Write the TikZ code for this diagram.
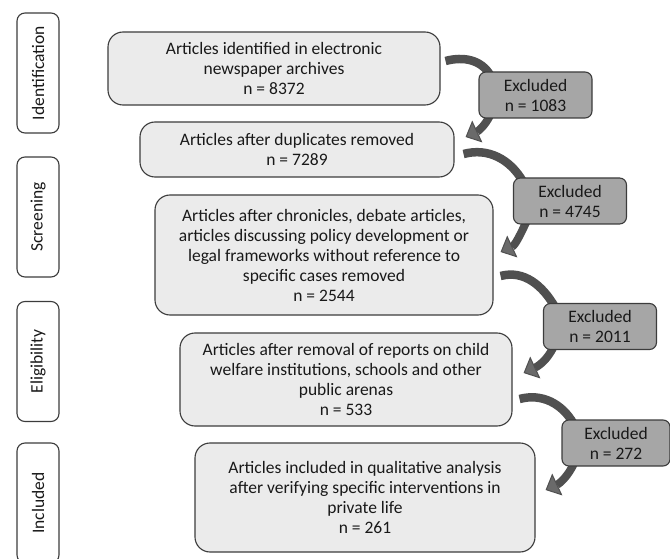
\documentclass[tikz,border=0pt]{standalone}
\usepackage{fontspec}
\setmainfont{Carlito}
\usetikzlibrary{arrows.meta,backgrounds}

\definecolor{boxline}{HTML}{3C3C3C}
\definecolor{mainfill}{HTML}{EBEBEB}
\definecolor{exfill}{HTML}{A6A6A6}
\definecolor{arrowgray}{HTML}{505050}
\definecolor{tipgray}{HTML}{6A6A6A}

\begin{document}
\begin{tikzpicture}[x=1pt,y=1pt,
		every node/.style={font=\fontsize{17.5}{20}\selectfont, text=black!90, align=center, inner sep=0pt},
		phase/.style={draw=boxline, line width=1.1pt, fill=white, rounded corners=8pt, rotate=90, minimum width=120pt, minimum height=42pt},
		stage/.style={draw=boxline, line width=1.1pt, fill=mainfill, rounded corners=15pt},
		excl/.style={draw=boxline, line width=1.1pt, fill=exfill, rounded corners=7pt, minimum width=113pt, minimum height=46pt},
		exarrow/.style={draw=arrowgray, line width=8.5pt},
		exhead/.style={draw=arrowgray, line width=8pt, -{Triangle[width=24pt,length=13pt,line width=1pt,fill=tipgray]}}]
		\useasboundingbox (0,0) rectangle (670,-559);
		\clip (0,0) rectangle (670,-559);
		% phases
		\node[phase]	(p_1)	at (38,-73)		{Identification};
		\node[phase]	(p_2)	at (38,-217)	{Screening};
		\node[phase]	(p_3)	at (38,-361.5)	{Eligibility};
		\node[phase]	(p_4)	at (38,-503)	{Included};
		% articles
		\node[stage, minimum width=332pt, minimum height=73pt]	(a_1)	at (274,-68.5)	{Articles identified in electronic\\newspaper archives\\n = 8372};
		\node[stage, minimum width=314pt, minimum height=55pt]	(a_2)	at (297,-149.5)	{Articles after duplicates removed\\n = 7289};
		\node[stage, minimum width=338pt, minimum height=120pt]	(a_3)	at (324,-255)	{Articles after chronicles, debate articles,\\articles discussing policy development or\\legal frameworks without reference to\\specific cases removed\\n = 2544};
		\node[stage, minimum width=332pt, minimum height=93pt]	(a_4)	at (346,-379.5)	{Articles after removal of reports on child\\welfare institutions, schools and other\\public arenas\\n = 533};
		\node[stage, minimum width=340pt, minimum height=109pt]	(a_5)	at (365,-497.5)	{Articles included in qualitative analysis\\after verifying specific interventions in\\private life\\n = 261};
		% excluded
		\node[excl]	(x_1)	at (535.5,-95)	{Excluded\\n = 1083};
		\node[excl]	(x_2)	at (570,-201)	{Excluded\\n = 4745};
		\node[excl]	(x_3)	at (600,-326.5)	{Excluded\\n = 2011};
		\node[excl, minimum width=108pt]	(x_4)	at (616,-443)	{Excluded\\n = 272};
		\begin{scope}[on background layer]
			\path
				([xshift=5pt,yshift=7.5pt]a_1.east)		edge[exarrow, out=15, in=120]		([xshift=12pt,yshift=-4pt]x_1.north west)
				([xshift=12pt,yshift=4pt]x_1.south west)	edge[exhead, out=-115, in=25]		([xshift=11pt,yshift=12.5pt]a_2.east)
				([xshift=9pt,yshift=-4.5pt]a_2.east)		edge[exarrow, out=15, in=120]		([xshift=10pt,yshift=-4pt]x_2.north west)
				([xshift=14pt,yshift=4pt]x_2.south west)	edge[exhead, out=-115, in=25]		([xshift=7pt,yshift=3pt]a_3.east)
				([xshift=7pt,yshift=-21pt]a_3.east)		edge[exarrow, out=15, in=120]		([xshift=12pt,yshift=-4pt]x_3.north west)
				([xshift=11pt,yshift=4pt]x_3.south west)	edge[exhead, out=-115, in=25]		([xshift=11pt,yshift=6.5pt]a_4.east)
				([xshift=7pt,yshift=-19.5pt]a_4.east)		edge[exarrow, out=15, in=120]		([xshift=12pt,yshift=-4pt]x_4.north west)
				([xshift=13pt,yshift=4pt]x_4.south west)	edge[exhead, out=-115, in=25]		([xshift=10pt,yshift=7.5pt]a_5.east);
		\end{scope}
	\end{tikzpicture}
\end{document}
